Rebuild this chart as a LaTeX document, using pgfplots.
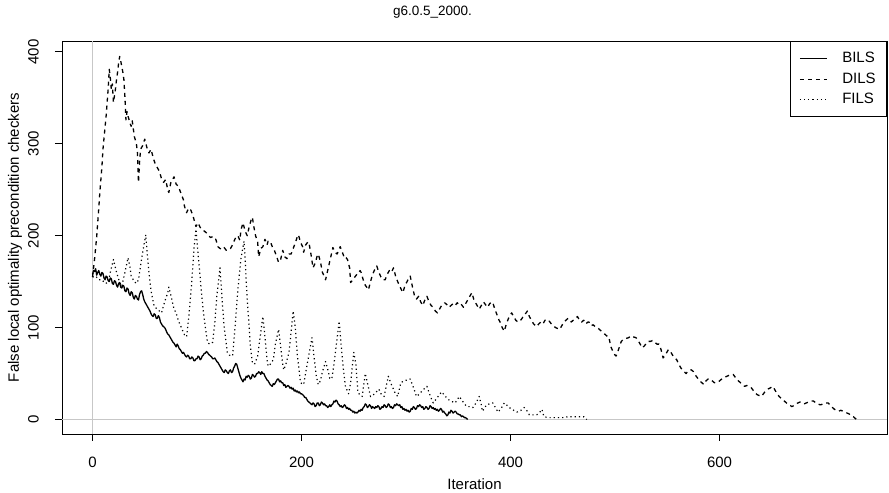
\documentclass[border=0pt]{standalone}
\usepackage{pgfplots}
\pgfplotsset{compat=1.18}
\usepackage{fontspec}
\setmainfont{Liberation Sans}
\begin{document}
\fontsize{15bp}{17bp}\selectfont
\begin{tikzpicture}
\begin{axis}[
 scale only axis, width=825bp, height=393bp,
 xmin=-29.2, xmax=760.2, ymin=-15.8, ymax=411.8,
 axis line style={black, line width=0.8bp},
 xtick={0,200,400,600}, ytick={0,100,200,300,400},
 tick align=outside, major tick length=7bp,
 tick style={black, line width=0.8bp},
 tick pos=left,
 /pgf/number format/assume math mode=true,
 yticklabel style={xshift=-11bp, rotate=90, anchor=south},
 xticklabel style={anchor=north, yshift=-11bp},
 ylabel={False local optimality precondition checkers},
 xlabel={Iteration},
 every axis y label/.style={at={(rel axis cs:0,0.5)}, xshift=-47bp, rotate=90, anchor=center},
 every axis x label/.style={at={(rel axis cs:0.5,0)}, anchor=center, yshift=-50bp},
 title={g6.0.5\_2000.},
 every axis title/.style={at={(rel axis cs:0.449,1)}, anchor=center, yshift=29bp, font=\fontsize{13.5bp}{15bp}\selectfont},
 legend style={at={(1,1)}, anchor=north east, draw=black, line width=0.8bp,
   inner xsep=9bp, inner ysep=9bp, row sep=3.5bp, cells={anchor=west},
   /tikz/every odd column/.append style={column sep=13bp}},
 legend image code/.code={\draw[#1, line width=0.8bp] (0bp,0bp) -- (27bp,0bp);},
 clip=false,
]
\draw[black!22, line width=0.8bp] (axis cs:0,-15.8) -- (axis cs:0,411.8);
\draw[black!22, line width=0.8bp] (axis cs:-29.2,0) -- (axis cs:760.2,0);

\addplot[black, line width=1.3bp, line join=round] coordinates {
(0,158)(1,162)(2,161)(3,164)(4,157)(5,160)(6,162)(7,158)(8,156)(9,160)(10,159)(11,154)(12,152)(13,156)(14,155)(15,151)(16,150)(17,154)(18,153)(19,148)(20,147)(21,151)(22,150)(23,146)(24,144)(25,148)(26,149)(27,144)(28,143)(29,146)(30,145)(31,140)(32,139)(33,143)(34,142)(35,137)(36,135)(37,139)(38,138)(39,133)(40,131)(41,135)(42,134)(43,131)(44,130)(45,136)(46,139)(47,140)(48,136)(49,131)(50,128)(51,126)(52,124)(53,122)(54,120)(55,118)(56,115)(57,113)(58,112)(59,115)(60,114)(61,110)(62,110)(63,113)(64,111)(65,106)(66,104)(67,102)(68,101)(69,100)(70,98)(71,95)(72,93)(73,92)(74,90)(75,88)(76,86)(77,84)(78,83)(79,81)(80,79)(81,82)(82,80)(83,77)(84,76)(85,74)(86,72)(87,73)(88,71)(89,69)(90,68)(91,70)(92,69)(93,66)(94,66)(95,68)(96,67)(97,64)(98,64)(99,66)(100,66)(101,69)(102,68)(103,65)(104,66)(105,69)(106,70)(107,72)(108,72)(109,74)(110,73)(111,71)(112,70)(113,69)(114,68)(115,66)(116,66)(117,67)(118,65)(119,63)(120,62)(121,60)(122,58)(123,56)(124,54)(125,52)(126,51)(127,54)(128,53)(129,51)(130,50)(131,53)(132,54)(133,51)(134,52)(135,56)(136,58)(137,61)(138,60)(139,56)(140,52)(141,48)(142,45)(143,43)(144,41)(145,44)(146,43)(147,47)(148,46)(149,48)(150,47)(151,44)(152,45)(153,49)(154,48)(155,46)(156,47)(157,50)(158,50)(159,52)(160,51)(161,49)(162,52)(163,50)(164,50)(165,47)(166,45)(167,43)(168,42)(169,40)(170,38)(171,37)(172,36)(173,39)(174,38)(175,40)(176,42)(177,44)(178,44)(179,41)(180,42)(181,40)(182,40)(183,37)(184,38)(185,35)(186,36)(187,37)(188,36)(189,34)(190,35)(191,33)(192,34)(193,31)(194,32)(195,30)(196,31)(197,29)(198,30)(199,28)(200,28)(201,27)(202,26)(203,24)(204,24)(205,22)(206,20)(207,19)(208,18)(209,17)(210,16)(211,18)(212,17)(213,14)(214,15)(215,18)(216,18)(217,15)(218,16)(219,19)(220,18)(221,16)(222,17)(223,15)(224,15)(225,13)(226,14)(227,16)(228,14)(229,16)(230,17)(231,20)(232,19)(233,21)(234,20)(235,17)(236,16)(237,14)(238,15)(239,13)(240,14)(241,16)(242,15)(243,12)(244,13)(245,11)(246,12)(247,10)(248,10)(249,8)(250,9)(251,7)(252,8)(253,7)(254,8)(255,10)(256,9)(257,11)(258,10)(259,13)(260,14)(261,17)(262,16)(263,13)(264,14)(265,16)(266,15)(267,12)(268,14)(269,13)(270,12)(271,14)(272,13)(273,15)(274,14)(275,11)(276,12)(277,14)(278,13)(279,16)(280,15)(281,13)(282,14)(283,17)(284,16)(285,13)(286,14)(287,12)(288,13)(289,16)(290,15)(291,17)(292,16)(293,15)(294,16)(295,13)(296,14)(297,11)(298,12)(299,10)(300,11)(301,9)(302,10)(303,8)(304,9)(305,12)(306,11)(307,14)(308,13)(309,11)(310,12)(311,15)(312,14)(313,16)(314,15)(315,13)(316,14)(317,11)(318,12)(319,14)(320,13)(321,11)(322,12)(323,15)(324,14)(325,12)(326,13)(327,11)(328,12)(329,10)(330,11)(331,9)(332,10)(333,12)(334,11)(335,8)(336,9)(337,7)(338,6)(339,4)(340,5)(341,8)(342,7)(343,10)(344,9)(345,7)(346,8)(347,9)(348,8)(349,6)(350,6)(351,5)(352,5)(353,3)(354,4)(355,3)(356,2)(357,2)(358,1)(359,0)
};
\addlegendentry{BILS}

\addplot[black, line width=1.3bp, dash pattern=on 4bp off 4bp, line join=round] coordinates {
(0,155)(2,175)(4,199)(6,230)(7,247)(9,275)(10,294)(12,318)(13,330)(15,360)(16,381)(17,372)(18,359)(19,365)(20,345)(21,352)(22,360)(23,370)(24,378)(25,388)(26,395)(27,390)(28,384)(29,378)(30,370)(31,351)(32,326)(33,335)(34,330)(36,322)(37,319)(38,325)(40,308)(42,300)(43,290)(44,258)(45,280)(46,294)(48,298)(50,305)(52,296)(54,290)(56,294)(58,285)(60,278)(62,274)(64,270)(66,262)(68,258)(70,261)(72,250)(73,247)(75,258)(77,262)(78,264)(80,256)(82,254)(84,248)(86,242)(87,239)(88,232)(90,225)(92,230)(94,228)(96,222)(98,214)(99,210)(101,214)(103,209)(105,206)(107,205)(109,203)(111,200)(113,198)(115,199)(117,196)(118,196)(120,188)(122,186)(124,185)(126,187)(128,184)(130,185)(132,186)(134,190)(135,193)(137,198)(139,200)(141,195)(142,206)(144,214)(146,205)(148,200)(150,210)(152,218)(153,220)(154,212)(156,200)(158,193)(159,177)(161,186)(163,188)(165,196)(167,190)(168,194)(170,194)(172,188)(174,184)(176,178)(178,171)(180,174)(182,184)(184,177)(186,175)(188,180)(190,180)(192,186)(194,192)(196,199)(197,201)(199,193)(201,188)(202,182)(204,190)(206,193)(207,193)(209,180)(211,165)(213,170)(215,178)(216,180)(218,172)(220,160)(222,155)(223,152)(225,162)(227,172)(228,177)(230,187)(232,182)(234,180)(236,185)(237,188)(239,182)(241,176)(242,177)(244,174)(246,165)(247,149)(249,152)(251,155)(253,158)(254,158)(256,162)(257,160)(259,152)(261,146)(263,143)(264,141)(266,150)(268,158)(270,163)(272,167)(274,160)(276,155)(278,152)(280,152)(282,158)(284,162)(286,160)(288,165)(290,156)(292,150)(294,145)(296,140)(297,138)(299,146)(301,150)(303,155)(304,156)(306,145)(308,135)(310,131)(312,134)(314,128)(316,124)(318,130)(320,134)(322,128)(324,124)(326,122)(328,118)(330,116)(332,120)(334,124)(336,126)(337,127)(339,125)(341,122)(343,124)(345,126)(347,124)(349,127)(351,124)(353,125)(355,122)(357,126)(359,130)(361,134)(363,138)(365,130)(367,126)(369,122)(370,120)(372,124)(374,128)(376,125)(378,122)(380,126)(382,128)(383,127)(385,120)(387,114)(389,108)(390,106)(392,100)(394,96)(396,104)(398,110)(400,114)(401,116)(403,112)(405,108)(407,106)(409,107)(411,110)(413,114)(415,116)(416,118)(418,112)(420,108)(422,104)(424,102)(425,101)(427,104)(429,106)(431,104)(433,108)(435,106)(437,107)(439,104)(441,102)(443,100)(445,99)(447,98)(449,102)(451,106)(453,108)(455,110)(456,109)(458,106)(460,108)(462,110)(464,112)(466,108)(468,106)(470,108)(472,104)(474,106)(475,106)(477,102)(479,103)(481,101)(483,100)(485,98)(487,96)(489,94)(491,92)(493,90)(494,90)(496,79)(498,74)(500,70)(501,69)(503,75)(505,82)(506,85)(508,87)(510,88)(513,89)(515,91)(517,90)(520,89)(522,86)(524,82)(526,78)(528,80)(530,83)(532,85)(534,85)(536,86)(538,84)(540,82)(542,82)(544,76)(546,67)(548,70)(550,74)(551,76)(553,74)(555,70)(557,67)(559,65)(561,60)(563,56)(566,52)(568,50)(570,53)(573,54)(575,52)(577,48)(579,45)(581,42)(583,40)(585,38)(587,42)(589,44)(591,44)(593,42)(595,40)(597,41)(599,41)(601,43)(603,45)(605,46)(607,47)(609,48)(611,49)(613,49)(615,46)(617,43)(620,40)(622,38)(624,36)(626,37)(628,36)(630,35)(632,32)(634,29)(636,27)(638,26)(640,25)(642,28)(644,31)(646,33)(648,34)(651,36)(653,32)(655,28)(657,25)(658,24)(660,22)(662,20)(664,18)(666,16)(668,15)(669,14)(671,15)(673,17)(675,18)(677,19)(679,18)(681,17)(683,18)(685,19)(687,20)(689,20)(690,20)(692,18)(694,17)(696,16)(697,16)(699,17)(701,18)(703,18)(704,18)(706,15)(708,13)(710,11)(712,10)(714,9)(716,10)(718,9)(720,8)(722,7)(724,6)(726,4)(728,3)(729,2)(731,0)
};
\addlegendentry{DILS}

\addplot[black, line width=1.2bp, dash pattern=on 1.2bp off 3bp, line join=round] coordinates {
(0,155)(3,156)(6,152)(9,152)(12,148)(15,149)(17,160)(20,174)(23,160)(26,149)(28,145)(31,160)(34,176)(36,165)(37,156)(40,150)(42,148)(44,152)(47,175)(50,195)(51,201)(52,185)(54,160)(56,140)(59,123)(62,120)(64,118)(66,116)(69,128)(72,138)(73,144)(75,135)(78,120)(80,116)(82,108)(85,100)(88,92)(90,90)(92,110)(95,150)(97,185)(99,207)(101,180)(103,155)(104,141)(106,118)(108,100)(110,84)(112,82)(115,84)(117,105)(119,135)(122,165)(124,130)(126,100)(129,73)(131,70)(134,69)(136,95)(139,140)(142,175)(145,194)(146,175)(148,130)(150,100)(151,80)(153,62)(155,60)(158,69)(161,95)(163,112)(165,90)(167,65)(168,58)(170,60)(173,65)(175,82)(178,98)(180,80)(182,60)(183,54)(185,60)(188,73)(190,95)(192,118)(194,100)(196,70)(199,40)(202,38)(204,51)(207,70)(210,89)(212,68)(214,48)(216,38)(218,42)(220,52)(223,63)(225,55)(227,45)(229,44)(231,60)(234,88)(236,107)(238,80)(240,55)(242,36)(245,28)(247,40)(250,73)(252,60)(254,29)(256,27)(258,25)(261,50)(263,40)(266,25)(268,26)(270,28)(274,33)(276,28)(279,25)(283,47)(286,38)(289,30)(292,25)(295,40)(298,42)(301,43)(304,44)(307,35)(310,25)(313,28)(316,32)(320,36)(323,26)(326,18)(330,24)(334,30)(337,26)(340,22)(343,20)(347,18)(351,25)(354,20)(358,14)(361,14)(364,13)(367,18)(370,25)(372,16)(373,9)(375,12)(377,16)(380,17)(383,18)(386,12)(388,8)(391,12)(394,18)(397,15)(401,11)(403,10)(406,8)(410,10)(413,13)(416,9)(418,5)(421,5)(425,5)(428,8)(430,11)(432,3)(436,2)(440,2)(445,2)(450,2)(455,3)(460,3)(465,3)(470,3)(472,1)(473,0)
};
\addlegendentry{FILS}
\end{axis}
\pgfresetboundingbox
\path[use as bounding box] ([xshift=-62bp,yshift=-59bp]current axis.south west) rectangle ([xshift=2bp,yshift=41bp]current axis.north east);
\end{tikzpicture}
\end{document}
